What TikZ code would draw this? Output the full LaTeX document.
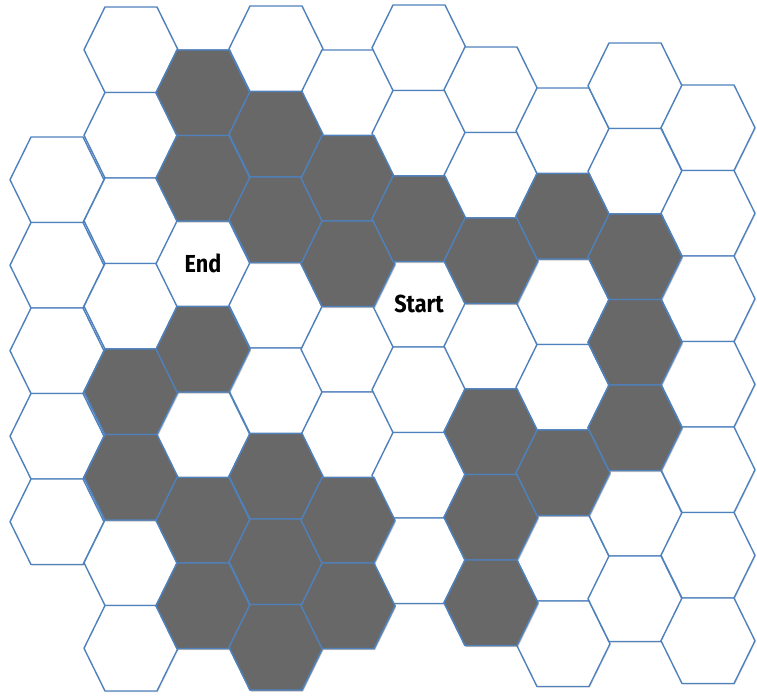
\documentclass[tikz,border=0pt]{standalone}
\usepackage{fontspec}
\newfontfamily\labelfont[FakeStretch=0.88]{Fira Sans}
\usepackage{tikz}
\usetikzlibrary{shadows}
\definecolor{hexblue}{RGB}{79,129,189}
\definecolor{wallgray}{RGB}{104,104,104}

\begin{document}
\begin{tikzpicture}[
	x=0.02cm, y=-0.02cm,
	every node/.style={font=\labelfont\bfseries\fontsize{14}{16}\selectfont},
	cell/.style={draw=hexblue, line width=0.8pt, fill=white, line join=round,
		drop shadow={shadow xshift=0.5pt, shadow yshift=-0.8pt, opacity=0.18}},
	wall/.style={cell, fill=wallgray,
		drop shadow={shadow xshift=0.6pt, shadow yshift=-0.9pt, opacity=0.35}},
	]
	\useasboundingbox (0,0) rectangle (757,698);
	% =============================================================
	%  GRID: one entry per column, index / x / top edge / last row
	% =============================================================
	\foreach \c/\cx/\top/\n in {0/57/137/4, 1/131/7/7, 2/203/50/6, 3/276/6/7,
		4/348/50/6, 5/419/5/6, 6/491/47/6, 7/563/88/6, 8/635/43/6, 9/708/85/6}
	\foreach \r in {0,...,\n} {
		\coordinate (h\c-\r) at (\cx, {\top+42.75+85.5*\r});
		\draw[cell] (h\c-\r) +(-47,0) -- +(-26,-42.75) -- +(26,-42.75)
		-- +(47,0) -- +(26,42.75) -- +(-26,42.75) -- cycle;
	}

	% --- blocked cells ---
	\foreach \h in {h1-4, h1-5, h2-0, h2-1, h2-3, h2-5, h2-6,
		h3-1, h3-2, h3-5, h3-6, h3-7, h4-1, h4-2, h4-5, h4-6,
		h5-2, h6-2, h6-4, h6-5, h6-6, h7-1, h7-4, h8-2, h8-3, h8-4}
	\draw[wall] (\h) +(-47,0) -- +(-26,-42.75) -- +(26,-42.75)
	-- +(47,0) -- +(26,42.75) -- +(-26,42.75) -- cycle;

	% --- labels ---
	\node (endlbl) at (h2-2) {End};
	\node (startlbl) at (h5-3) {Start};
\end{tikzpicture}
\end{document}
